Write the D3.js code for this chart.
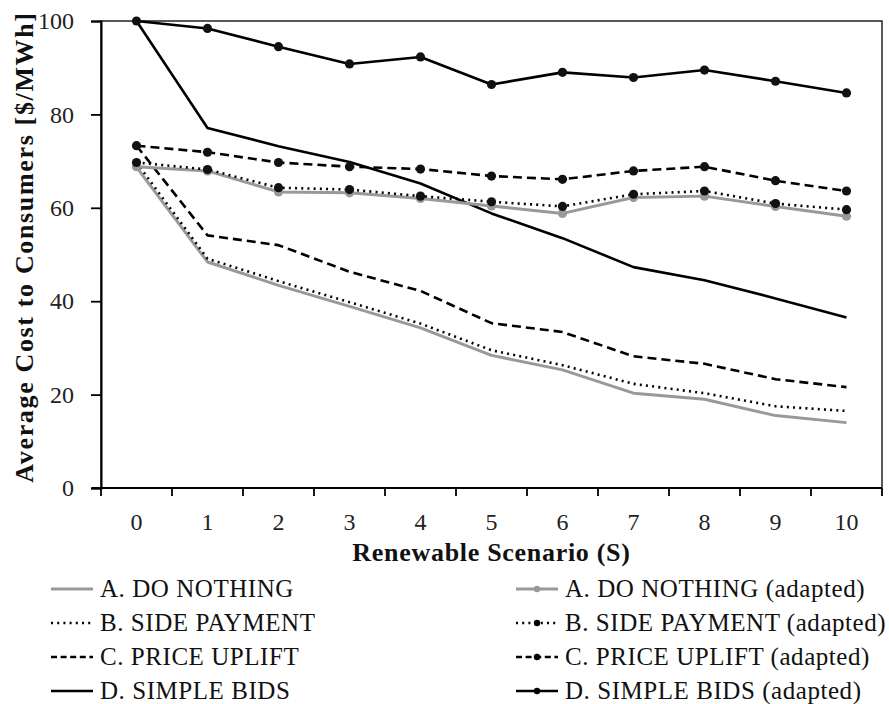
<!DOCTYPE html>
<html lang="en">
<head>
<meta charset="utf-8">
<script src="https://d3js.org/d3.v7.min.js"></script>
<style>
  body { margin: 0; background: #fff; }
  svg { display: block; font-family: "Liberation Serif", serif; }
</style>
</head>
<body>
<script>
// scenarios on the x axis
var scenarios = ["0", "1", "2", "3", "4", "5", "6", "7", "8", "9", "10"];
var yTicks = [0, 20, 40, 60, 80, 100];

// series values ($/MWh)
var doNothing      = [68.7, 48.4, 43.4, 38.9, 34.3, 28.4, 25.3, 20.3, 19.0, 15.5, 14.0];
var sidePayment    = [69.7, 49.1, 44.3, 39.8, 35.2, 29.5, 26.3, 22.3, 20.3, 17.5, 16.5];
var priceUplift    = [73.3, 54.1, 52.0, 46.3, 42.2, 35.3, 33.4, 28.2, 26.6, 23.3, 21.6];
var simpleBids     = [100, 77.1, 73.2, 69.8, 65.2, 58.8, 53.5, 47.3, 44.5, 40.6, 36.5];
var doNothingAd    = [68.8, 67.9, 63.4, 63.2, 62.0, 60.4, 58.8, 62.2, 62.5, 60.3, 58.2];
var sidePaymentAd  = [69.7, 68.2, 64.3, 63.9, 62.5, 61.3, 60.3, 62.9, 63.6, 60.9, 59.6];
var priceUpliftAd  = [73.3, 71.9, 69.7, 68.8, 68.3, 66.8, 66.1, 67.9, 68.8, 65.8, 63.6];
var simpleBidsAd   = [100, 98.4, 94.5, 90.8, 92.3, 86.4, 89.0, 87.9, 89.5, 87.1, 84.6];

var seriesNames = ["A. DO NOTHING", "B. SIDE PAYMENT", "C. PRICE UPLIFT", "D. SIMPLE BIDS"];

var width = 889, height = 704;
var margin = {top: 21, right: 7, bottom: 216, left: 101};
var plotW = width - margin.left - margin.right,
    plotH = height - margin.top - margin.bottom;

var grey = "#999999";
var styles = [
  {color: grey, width: 3, dash: null},
  {color: "#000", width: 2.6, dash: "2,4.2"},
  {color: "#000", width: 2.6, dash: "9,5"},
  {color: "#000", width: 2.6, dash: null}
];

var series = [
  {name: seriesNames[0], values: doNothing, style: styles[0], marker: false},
  {name: seriesNames[1], values: sidePayment, style: styles[1], marker: false},
  {name: seriesNames[2], values: priceUplift, style: styles[2], marker: false},
  {name: seriesNames[3], values: simpleBids, style: styles[3], marker: false},
  {name: seriesNames[0] + " (adapted)", values: doNothingAd, style: styles[0], marker: true},
  {name: seriesNames[1] + " (adapted)", values: sidePaymentAd, style: styles[1], marker: true},
  {name: seriesNames[2] + " (adapted)", values: priceUpliftAd, style: styles[2], marker: true},
  {name: seriesNames[3] + " (adapted)", values: simpleBidsAd, style: styles[3], marker: true}
];

var svg = d3.select("body").append("svg")
    .attr("width", width)
    .attr("height", height);

var g = svg.append("g")
    .attr("transform", "translate(" + margin.left + "," + margin.top + ")");

var x = d3.scaleBand().domain(scenarios).range([0, plotW]).padding(0);
var y = d3.scaleLinear().domain([0, 100]).range([plotH, 0]);

// frame
g.append("rect")
    .attr("width", plotW)
    .attr("height", plotH)
    .attr("fill", "none")
    .attr("stroke", "#222")
    .attr("stroke-width", 1.5);

// y axis
var yAxis = g.append("g")
    .call(d3.axisLeft(y).tickValues(yTicks).tickSize(10).tickPadding(17));
yAxis.select(".domain").attr("stroke-width", 2);
yAxis.selectAll(".tick line").attr("stroke-width", 1.8);
yAxis.selectAll("text")
    .attr("font-size", 24)
    .attr("font-family", "Liberation Serif, serif")
    .attr("fill", "#222");

// x axis: ticks on category boundaries, labels in the middle
var xAxis = g.append("g")
    .attr("transform", "translate(0," + plotH + ")")
    .call(d3.axisBottom(x).tickSize(0).tickPadding(25));
xAxis.select(".domain").attr("stroke-width", 2).attr("d", "M-9,0H" + plotW);
xAxis.selectAll("text")
    .attr("font-size", 24)
    .attr("font-family", "Liberation Serif, serif")
    .attr("fill", "#222");
var bounds = scenarios.map(function(s) { return x(s); }).concat([plotW]);
xAxis.selectAll(".bound")
    .data(bounds)
    .enter().append("line")
    .attr("class", "bound")
    .attr("x1", function(d) { return d; })
    .attr("x2", function(d) { return d; })
    .attr("y1", 0)
    .attr("y2", 8)
    .attr("stroke", "#000")
    .attr("stroke-width", 1.8);

// axis titles
svg.append("text")
    .attr("x", margin.left + plotW / 2)
    .attr("y", 561)
    .attr("text-anchor", "middle")
    .attr("font-size", 26)
    .attr("letter-spacing", 0.7)
    .attr("font-weight", "bold")
    .attr("fill", "#111")
    .text("Renewable Scenario (S)");

svg.append("text")
    .attr("transform", "translate(33,247) rotate(-90)")
    .attr("text-anchor", "middle")
    .attr("font-size", 26)
    .attr("letter-spacing", 1.65)
    .attr("font-weight", "bold")
    .attr("fill", "#111")
    .text("Average Cost to Consumers [$/MWh]");

// lines
var line = d3.line()
    .x(function(d, i) { return x(scenarios[i]) + x.bandwidth() / 2; })
    .y(function(d) { return y(d); });

series.forEach(function(s) {
  g.append("path")
      .datum(s.values)
      .attr("d", line)
      .attr("fill", "none")
      .attr("stroke", s.style.color)
      .attr("stroke-width", s.style.width)
      .attr("stroke-dasharray", s.style.dash)
      .attr("stroke-linejoin", "round");
  if (s.marker) {
    g.selectAll(null)
        .data(s.values)
        .enter().append("circle")
        .attr("cx", function(d, i) { return x(scenarios[i]) + x.bandwidth() / 2; })
        .attr("cy", function(d) { return y(d); })
        .attr("r", 4.6)
        .attr("fill", s.style.color === grey ? grey : "#111");
  }
});

// legend
var legRows = [589, 623, 657, 691];
var legend = svg.append("g");
series.forEach(function(s, i) {
  var col = i < 4 ? 0 : 1;
  var row = i % 4;
  var x0 = col === 0 ? 51 : 516;
  var yy = legRows[row];
  var lg = legend.append("g").attr("transform", "translate(" + x0 + "," + yy + ")");
  lg.append("line")
      .attr("x1", 0).attr("x2", 42)
      .attr("y1", 0).attr("y2", 0)
      .attr("stroke", s.style.color)
      .attr("stroke-width", s.style.width)
      .attr("stroke-dasharray", s.style.dash === "9,5" ? "6,3.6" : s.style.dash);
  if (s.marker) {
    lg.append("circle")
        .attr("cx", 21).attr("cy", 0).attr("r", 3.2)
        .attr("fill", s.style.color === grey ? grey : "#000");
  }
  lg.append("text")
      .attr("x", 49)
      .attr("y", 8)
      .attr("font-size", 25)
      .attr("letter-spacing", 0.55)
      .attr("fill", "#111")
      .text(s.name);
});
</script>
</body>
</html>
